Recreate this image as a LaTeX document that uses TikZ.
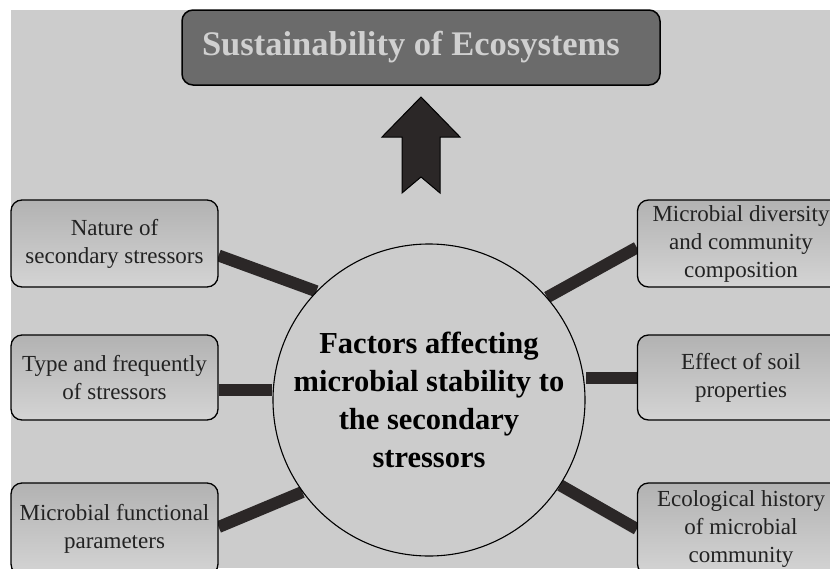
\documentclass[tikz,border=0pt]{standalone}
\usepackage{fontspec}
\setmainfont{Liberation Serif}
\usetikzlibrary{backgrounds}
\definecolor{bggray}{HTML}{CCCCCC}
\definecolor{titlefill}{HTML}{6B6B6B}
\definecolor{titletext}{HTML}{D0D0D0}
\definecolor{linkcol}{HTML}{2B2727}
\definecolor{boxtop}{HTML}{B2B2B2}
\definecolor{boxbot}{HTML}{D4D4D4}
\definecolor{boxtext}{HTML}{222222}
\tikzset{
  factorbox/.style={draw=black, line width=1.3pt, rounded corners=11pt,
    top color=boxtop, bottom color=boxbot, inner sep=0pt, align=center,
    minimum width=207pt, text=boxtext,
    font=\fontsize{23}{28}\selectfont},
  link/.style={draw=linkcol, line width=12pt},
  hub/.style={circle, draw=black, line width=1.1pt, fill=bggray, minimum size=312pt,
    inner sep=0pt, align=center, font=\bfseries\fontsize{30.5}{38}\selectfont},
  titlebox/.style={draw=black, line width=1.5pt, rounded corners=11pt, fill=titlefill,
    text=titletext, inner sep=0pt, minimum width=478pt, minimum height=75pt,
    font=\bfseries\fontsize{34.5}{40}\selectfont},
  uparrow/.style={draw=black, line width=1pt, fill=linkcol}
}
\begin{document}
\begin{tikzpicture}[x=1pt,y=-1pt]
\useasboundingbox (0,0) rectangle (830,568);
\clip (0,0) rectangle (830,568);

% title
\node[titlebox] (title) at (421,47.5) {\hspace*{-20pt}Sustainability of Ecosystems};

% arrow
\draw[uparrow] (421,97) -- (460,137) -- (440,137) -- (440,193) -- (421,177)
  -- (402,193) -- (402,137) -- (382,137) -- cycle;

% hub
\node[hub] (c) at (429,400) {Factors affecting\\microbial stability to\\the secondary\\stressors};

% left boxes
\node[factorbox, minimum height=87pt] (L1) at (114.5,243.5) {Nature of\\secondary stressors};
\node[factorbox, minimum height=85pt] (L2) at (114.5,377.5) {Type and frequently\\of stressors};
\node[factorbox, minimum height=92pt] (L3) at (114.5,529) {Microbial functional\\parameters};

% right boxes
\node[factorbox, minimum height=87pt] (R1) at (741,243.5) {Microbial diversity\\and community\\composition};
\node[factorbox, minimum height=85pt] (R2) at (741,377.5) {Effect of soil\\properties};
\node[factorbox, minimum height=92pt] (R3) at (741,529) {Ecological history\\of microbial\\community};

\begin{pgfonlayer}{background}
\fill[white] (0,0) rectangle (830,568);
\fill[bggray] (11,10) rectangle (830,568);
\draw[link] ([yshift=-12pt]L1.east) -- (c.136);
\draw[link] ([yshift=-12pt]L2.east) -- ([yshift=-12pt]L2.east -| c.west);
\draw[link] ([yshift=2pt]L3.east) -- (c.216);
\draw[link] ([yshift=-4pt]R1.west) -- (c.41);
\draw[link] (R2.west) -- (R2.west -| c.east);
\draw[link] (R3.west) -- (c.-33.5);
\end{pgfonlayer}
\end{tikzpicture}
\end{document}
